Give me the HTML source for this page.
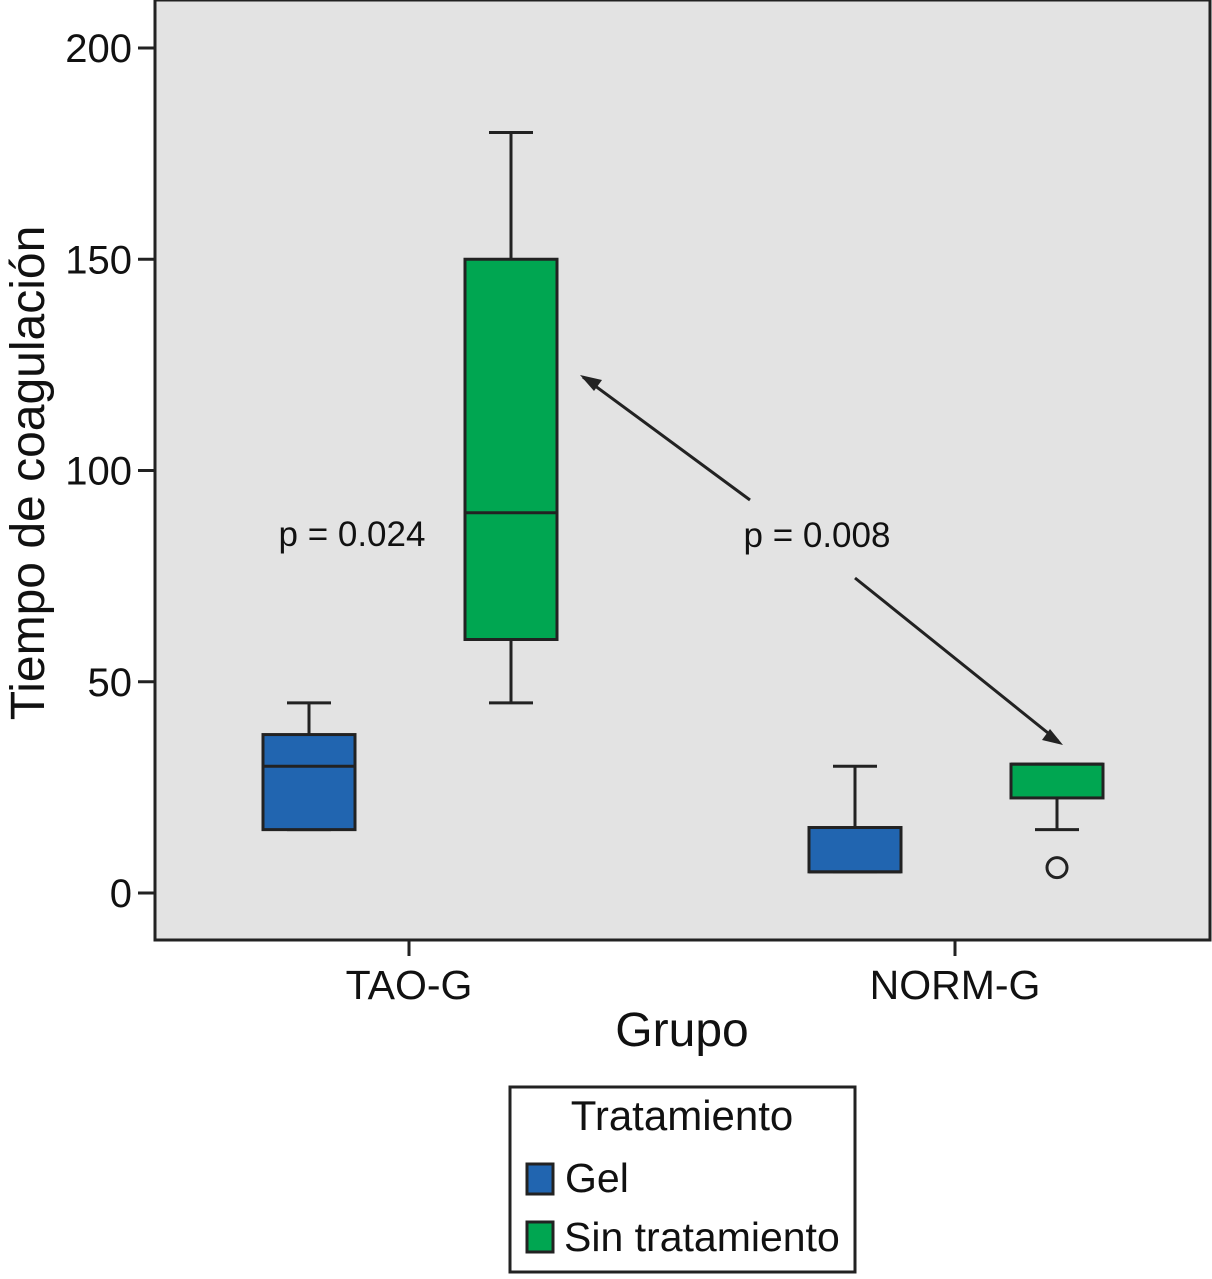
<!DOCTYPE html>
<html><head><meta charset="utf-8"><style>
body{margin:0;background:#fff;}
svg text{font-family:"Liberation Sans",Arial,sans-serif;fill:#111;}
</style></head><body>
<svg id="chart" width="1212" height="1274" viewBox="0 0 1212 1274" xmlns="http://www.w3.org/2000/svg">
<rect x="155" y="0" width="1055" height="940" fill="#e3e3e3" stroke="#222" stroke-width="3"/>
<g id="yaxis"></g>
<g id="boxes"></g>
<g id="xaxis"></g>
<text x="0" y="0" transform="translate(44,473) rotate(-90)" text-anchor="middle" font-size="48">Tiempo de coagulación</text>
<text x="682" y="1046" text-anchor="middle" font-size="48">Grupo</text>
<text x="352" y="546" text-anchor="middle" font-size="35">p = 0.024</text>
<text x="817" y="547" text-anchor="middle" font-size="35">p = 0.008</text>
<line x1="750" y1="500" x2="583" y2="377" stroke="#222" stroke-width="3"/>
<polygon points="580,375 602,380 594,391" fill="#222"/>
<line x1="855" y1="578" x2="1058" y2="741" stroke="#222" stroke-width="3"/>
<polygon points="1063,745 1042,740 1050,729" fill="#222"/>
<g>
<rect x="510" y="1087" width="345" height="185" fill="#fff" stroke="#222" stroke-width="3"/>
<text x="682" y="1130" text-anchor="middle" font-size="42">Tratamiento</text>
<rect x="527" y="1164" width="26" height="30" fill="#2165b0" stroke="#222" stroke-width="3"/>
<text x="565" y="1192" font-size="41">Gel</text>
<rect x="527" y="1222" width="26" height="30" fill="#00a651" stroke="#222" stroke-width="3"/>
<text x="564" y="1251" font-size="41">Sin tratamiento</text>
</g>
</svg>
<script>
const groups=["TAO-G","NORM-G"];
const yTicks=[0,50,100,150,200];
const gelMin=[15,5], gelQ1=[15,5], gelMed=[30,5], gelQ3=[37.5,15.5], gelMax=[45,30];
const sinMin=[45,15], sinQ1=[60,22.5], sinMed=[90,30.5], sinQ3=[150,30.5], sinMax=[180,30.5];
const sinOutliers=[[1,6]];
const NS="http://www.w3.org/2000/svg";
const y=v=>893-v*(845/200);
const xc=i=>409+i*546;
function mk(tag,attrs,parent){const e=document.createElementNS(NS,tag);for(const k in attrs)e.setAttribute(k,attrs[k]);parent.appendChild(e);return e;}
const ya=document.getElementById('yaxis');
yTicks.forEach(t=>{
 const l=mk('line',{x1:138,x2:155,y1:y(t),y2:y(t),stroke:'#222','stroke-width':3},ya);
 
 
 const tx=mk('text',{x:132,y:y(t)+14,'text-anchor':'end','font-size':40},ya);tx.textContent=t;
 
 
});
const xa=document.getElementById('xaxis');
groups.forEach((g,i)=>{
 const l=mk('line',{x1:xc(i),x2:xc(i),y1:940,y2:956,stroke:'#222','stroke-width':3},xa);
 
 
 const tx=mk('text',{x:xc(i),y:999,'text-anchor':'middle','font-size':41},xa);tx.textContent=g;
 
 
});
const bx=document.getElementById('boxes');
function box(cx,mn,q1,md,q3,mx,fill,name){
 const g=mk('g',{},bx);
 
 
 const hw=46,cw=22,s={stroke:'#222','stroke-width':3};
 mk('line',Object.assign({x1:cx,x2:cx,y1:y(mx),y2:y(q3)},s),g);
 mk('line',Object.assign({x1:cx-cw,x2:cx+cw,y1:y(mx),y2:y(mx)},s),g);
 mk('line',Object.assign({x1:cx,x2:cx,y1:y(q1),y2:y(mn)},s),g);
 mk('line',Object.assign({x1:cx-cw,x2:cx+cw,y1:y(mn),y2:y(mn)},s),g);
 mk('rect',Object.assign({x:cx-hw,y:y(q3),width:2*hw,height:y(q1)-y(q3),fill:fill},s),g);
 mk('line',Object.assign({x1:cx-hw,x2:cx+hw,y1:y(md),y2:y(md)},s),g);
}
groups.forEach((g,i)=>{
 box(xc(i)-100,gelMin[i],gelQ1[i],gelMed[i],gelQ3[i],gelMax[i],'#2165b0','box-gel-'+g.toLowerCase());
 box(xc(i)+102,sinMin[i],sinQ1[i],sinMed[i],sinQ3[i],sinMax[i],'#00a651','box-sin-'+g.toLowerCase());
});
sinOutliers.forEach(o=>{
 const c=mk('circle',{cx:xc(o[0])+102,cy:y(o[1]),r:10,fill:'none',stroke:'#222','stroke-width':3},bx);
 
 
});
</script>
</body></html>
